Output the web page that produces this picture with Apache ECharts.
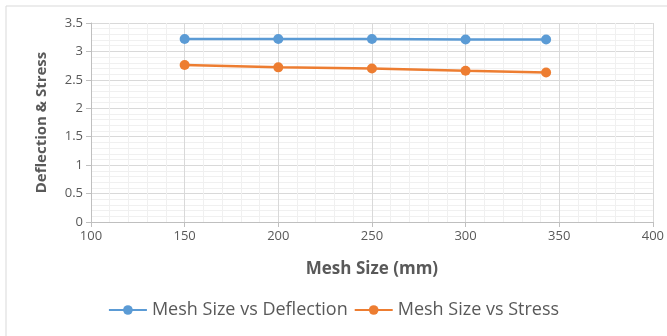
<!DOCTYPE html>
<html>
<head>
<meta charset="utf-8">
<script src="https://cdn.jsdelivr.net/npm/echarts@6/dist/echarts.min.js"></script>
<style>
  html, body { margin: 0; padding: 0; background: #fff; }
  #chart { width: 667px; height: 336px; }
</style>
</head>
<body>
<div id="chart"></div>
<script>
// Mesh sizes (mm) and measured results
const meshSize = [150, 200, 250, 300, 343];
const deflection = [3.22, 3.22, 3.22, 3.21, 3.21];
const stress = [2.76, 2.72, 2.70, 2.66, 2.63];

const seriesNames = ['Mesh Size vs Deflection', 'Mesh Size vs Stress'];
const xTitle = 'Mesh Size (mm)';
const yTitle = 'Deflection & Stress';

const textColor = '#595959';
const fontFam = 'Open Sans, Liberation Sans, sans-serif';

const chart = echarts.init(document.getElementById('chart'));
chart.setOption({
  animation: false,
  backgroundColor: '#fff',
  graphic: [{
    type: 'rect',
    shape: { x: 6, y: 6, width: 720, height: 400 },
    style: { fill: 'none', stroke: '#d9d9d9', lineWidth: 1 },
    silent: true
  }],
  grid: { left: 91, right: 14, top: 23, bottom: 114 },
  legend: {
    top: 296,
    left: 'center',
    itemWidth: 38,
    itemHeight: 12,
    itemGap: 6,
    textStyle: { color: textColor, fontSize: 18, fontFamily: fontFam },
    data: seriesNames
  },
  xAxis: {
    type: 'value',
    min: 100, max: 400, interval: 50,
    name: xTitle,
    nameLocation: 'middle',
    nameGap: 39,
    nameTextStyle: { color: textColor, fontSize: 17, fontWeight: 'bold', fontFamily: fontFam },
    axisLine: { show: true, lineStyle: { color: '#bfbfbf' } },
    axisTick: { show: true, length: 5, lineStyle: { color: '#bfbfbf' } },
    axisLabel: { color: textColor, fontSize: 13, margin: 8, fontFamily: fontFam },
    splitLine: { show: true, lineStyle: { color: '#d9d9d9' } },
    minorTick: { show: false, splitNumber: 5 },
    minorSplitLine: { show: true, lineStyle: { color: '#f0f0f0' } }
  },
  yAxis: {
    type: 'value',
    min: 0, max: 3.5, interval: 0.5,
    name: yTitle,
    nameLocation: 'middle',
    nameGap: 42,
    nameRotate: 90,
    nameTextStyle: { color: textColor, fontSize: 15, fontWeight: 'bold', fontFamily: fontFam },
    axisLine: { show: true, lineStyle: { color: '#bfbfbf' } },
    axisTick: { show: true, length: 5, lineStyle: { color: '#bfbfbf' } },
    axisLabel: { color: textColor, fontSize: 13, margin: 8, fontFamily: fontFam },
    splitLine: { show: true, lineStyle: { color: '#d9d9d9' } },
    minorTick: { show: false, splitNumber: 5 },
    minorSplitLine: { show: true, lineStyle: { color: '#f0f0f0' } }
  },
  series: [
    {
      name: seriesNames[0],
      type: 'line',
      data: meshSize.map((x, i) => [x, deflection[i]]),
      color: '#5B9BD5',
      symbol: 'circle',
      symbolSize: 10,
      lineStyle: { width: 2.5 }
    },
    {
      name: seriesNames[1],
      type: 'line',
      data: meshSize.map((x, i) => [x, stress[i]]),
      color: '#ED7D31',
      symbol: 'circle',
      symbolSize: 10,
      lineStyle: { width: 2.5 }
    }
  ]
});
</script>
</body>
</html>
